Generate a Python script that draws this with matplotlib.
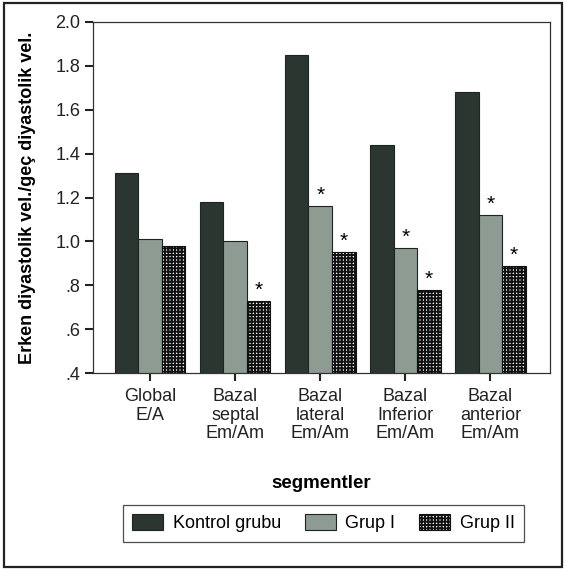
import matplotlib
matplotlib.use("Agg")
import matplotlib.pyplot as plt
import numpy as np
from matplotlib.patches import Rectangle

plt.rcParams['font.family'] = ['Liberation Sans', 'DejaVu Sans']
plt.rcParams['hatch.linewidth'] = 1.4

categories = ["Global\nE/A", "Bazal\nseptal\nEm/Am", "Bazal\nlateral\nEm/Am",
              "Bazal\nInferior\nEm/Am", "Bazal\nanterior\nEm/Am"]
groups = ["Kontrol grubu", "Grup I", "Grup II"]
kontrol = [1.31, 1.18, 1.85, 1.44, 1.68]
grup1 = [1.01, 1.00, 1.16, 0.97, 1.12]
grup2 = [0.98, 0.73, 0.95, 0.78, 0.89]
# where the significance stars go
stars1 = [False, False, True, True, True]
stars2 = [False, True, True, True, True]

yticks = [0.4, 0.6, 0.8, 1.0, 1.2, 1.4, 1.6, 1.8, 2.0]
yticklabels = [".4", ".6", ".8", "1.0", "1.2", "1.4", "1.6", "1.8", "2.0"]

fig = plt.figure(figsize=(5.65, 5.69), dpi=100)
ax = fig.add_axes([93 / 565, 1 - 373 / 569, (550 - 93) / 565, (373 - 22) / 569])

x = np.arange(len(categories))
w = 0.277
edge = "#1e2420"
b0 = ax.bar(x - w, kontrol, w, color="#2b3631", edgecolor=edge, linewidth=0.8,
            label=groups[0])
b1 = ax.bar(x, grup1, w, color="#8d9b92", edgecolor=edge, linewidth=0.8, label=groups[1])
b2 = ax.bar(x + w, grup2, w, color="white", edgecolor="#111111", hatch="+++++",
            linewidth=0.8, label=groups[2])

for i in range(len(categories)):
    if stars1[i]:
        ax.text(x[i], grup1[i] + 0.005, "*", ha="center", va="bottom", fontsize=15)
    if stars2[i]:
        ax.text(x[i] + w, grup2[i] + 0.005, "*", ha="center", va="bottom", fontsize=15)

ax.set_ylim(0.4, 2.0)
ax.set_xlim(-0.67, 4.7)
ax.set_yticks(yticks)
ax.set_yticklabels(yticklabels, fontsize=13)
ax.set_xticks(x)
ax.set_xticklabels(categories, fontsize=13, linespacing=1.1)
ax.tick_params(axis="both", direction="out", length=6, width=1.5, colors="#222222",
               labelcolor="#222222")
ax.tick_params(axis="y", pad=3)
ax.tick_params(axis="x", pad=5)
for s in ax.spines.values():
    s.set_linewidth(0.9)
    s.set_color("#333333")

ax.set_ylabel("Erken diyastolik vel./geç diyastolik vel.", fontsize=13,
              fontweight="bold", labelpad=14)
ax.set_xlabel("segmentler", fontsize=13.5, fontweight="bold", labelpad=24)

leg = fig.legend(handles=[b0, b1, b2], labels=groups, loc="center", ncol=3,
                 bbox_to_anchor=(0.5726, 0.08), fontsize=13, frameon=True,
                 fancybox=False, edgecolor="#222222", handlelength=1.7,
                 handleheight=0.95, columnspacing=1.3, handletextpad=0.55,
                 borderpad=0.55)
leg.get_frame().set_linewidth(0.9)

fig.patches.append(Rectangle((4 / 565, 1 - 567 / 569), (562 - 4) / 565, (567 - 3) / 569,
                             transform=fig.transFigure, fill=False,
                             edgecolor="#222222", linewidth=1.6))

fig.savefig("out.png", dpi=100)
